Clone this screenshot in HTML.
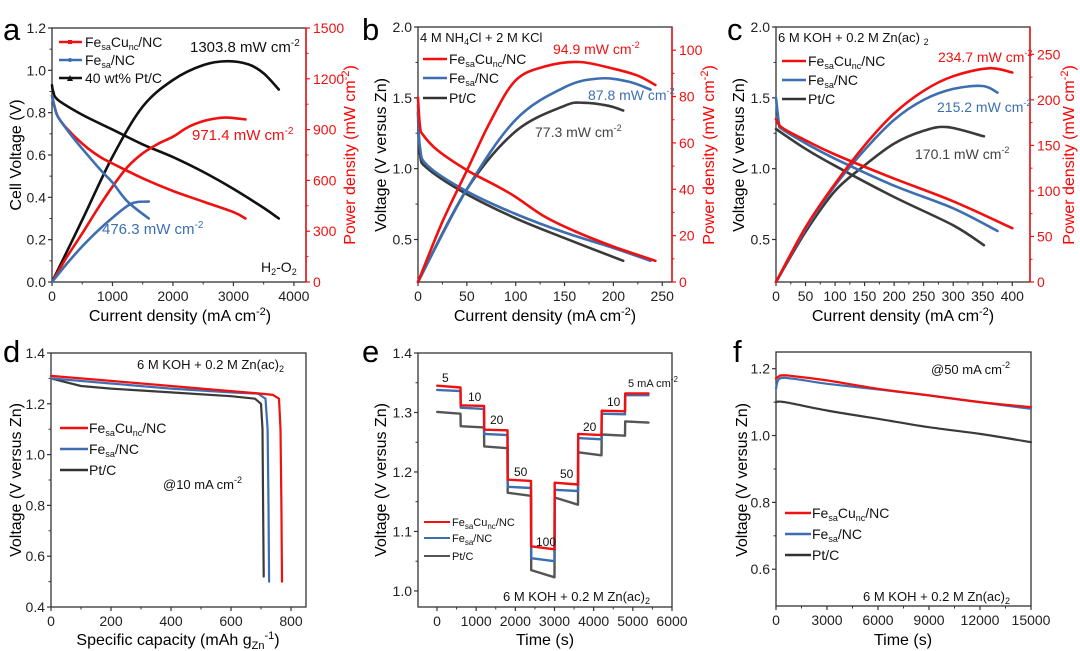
<!DOCTYPE html>
<html><head><meta charset="utf-8"><style>
html,body{margin:0;padding:0;background:#fff}
svg{display:block;font-family:"Liberation Sans",Arial,sans-serif}
</style></head><body>
<svg id="fig" width="1080" height="651" viewBox="0 0 1080 651">
<g font-size="31" fill="#000">
<text x="3" y="40">a</text>
<text x="362" y="40">b</text>
<text x="727" y="40">c</text>
<text x="3" y="362">d</text>
<text x="362" y="362">e</text>
<text x="733" y="362">f</text>
</g>
<g font-size="16" fill="#000">
<text transform="translate(21,155) rotate(-90)" text-anchor="middle">Cell Voltage (V)</text>
<text transform="translate(355,155) rotate(-90)" text-anchor="middle" fill="#f00">Power density (mW cm<tspan font-size="11" dy="-6">-2</tspan><tspan dy="6">)</tspan></text>
<text x="180" y="321" text-anchor="middle">Current density  (mA cm<tspan font-size="11" dy="-6">-2</tspan><tspan dy="6">)</tspan></text>
<text transform="translate(386,155) rotate(-90)" text-anchor="middle">Voltage (V versus Zn)</text>
<text transform="translate(714,155) rotate(-90)" text-anchor="middle" fill="#f00">Power density (mW cm<tspan font-size="11" dy="-6">-2</tspan><tspan dy="6">)</tspan></text>
<text x="545" y="321" text-anchor="middle">Current density  (mA cm<tspan font-size="11" dy="-6">-2</tspan><tspan dy="6">)</tspan></text>
<text transform="translate(744,155) rotate(-90)" text-anchor="middle">Voltage (V versus Zn)</text>
<text transform="translate(1074,155) rotate(-90)" text-anchor="middle" fill="#f00">Power density (mW cm<tspan font-size="11" dy="-6">-2</tspan><tspan dy="6">)</tspan></text>
<text x="903" y="321" text-anchor="middle">Current density  (mA cm<tspan font-size="11" dy="-6">-2</tspan><tspan dy="6">)</tspan></text>
<text transform="translate(21,480) rotate(-90)" text-anchor="middle">Voltage (V versus Zn)</text>
<text x="178" y="645" text-anchor="middle">Specific capacity  (mAh g<tspan font-size="11" dy="4">Zn</tspan><tspan font-size="11" dy="-10">-1</tspan><tspan dy="6">)</tspan></text>
<text transform="translate(386,480) rotate(-90)" text-anchor="middle">Voltage (V versus Zn)</text>
<text x="545" y="645" text-anchor="middle">Time (s)</text>
<text transform="translate(747,480) rotate(-90)" text-anchor="middle">Voltage (V versus Zn)</text>
<text x="903" y="645" text-anchor="middle">Time (s)</text>
</g>
<g id="plots"></g>
<g font-size="14" fill="#111">
<g>
<line x1="59" y1="42" x2="82" y2="42" stroke="#f01010" stroke-width="2.5"/><rect x="68" y="40" width="4" height="4" fill="#f01010"/>
<text x="85" y="47">Fe<tspan font-size="9" dy="3">sa</tspan><tspan dy="-3">Cu</tspan><tspan font-size="9" dy="3">nc</tspan><tspan dy="-3">/NC</tspan></text>
<line x1="59" y1="60" x2="82" y2="60" stroke="#3d6fb0" stroke-width="2.5"/><circle cx="70" cy="60" r="2" fill="#3d6fb0"/>
<text x="85" y="65">Fe<tspan font-size="9" dy="3">sa</tspan><tspan dy="-3">/NC</tspan></text>
<line x1="59" y1="78" x2="82" y2="78" stroke="#111" stroke-width="2.5"/><path d="M67,81 L70,75 L73,81Z" fill="#111"/>
<text x="85" y="83">40 wt% Pt/C</text>
</g>
<text x="190" y="52" font-size="15">1303.8 mW cm<tspan font-size="10" dy="-6">-2</tspan></text>
<text x="192" y="140" font-size="15" fill="#f01010">971.4 mW cm<tspan font-size="10" dy="-6">-2</tspan></text>
<text x="102" y="234" font-size="15" fill="#3d6fb0">476.3 mW cm<tspan font-size="10" dy="-6">-2</tspan></text>
<text x="261" y="272">H<tspan font-size="9" dy="3">2</tspan><tspan dy="-3">-O</tspan><tspan font-size="9" dy="3">2</tspan></text>
<text x="420" y="42" font-size="13">4 M NH<tspan font-size="9" dy="3">4</tspan><tspan dy="-3">Cl + 2 M KCl</tspan></text>
<g>
<line x1="423" y1="59" x2="447" y2="59" stroke="#f01010" stroke-width="2.5"/>
<text x="449" y="64">Fe<tspan font-size="9" dy="3">sa</tspan><tspan dy="-3">Cu</tspan><tspan font-size="9" dy="3">nc</tspan><tspan dy="-3">/NC</tspan></text>
<line x1="423" y1="78" x2="447" y2="78" stroke="#3d6fb0" stroke-width="2.5"/>
<text x="449" y="83">Fe<tspan font-size="9" dy="3">sa</tspan><tspan dy="-3">/NC</tspan></text>
<line x1="423" y1="98" x2="447" y2="98" stroke="#333" stroke-width="2.5"/>
<text x="449" y="103">Pt/C</text>
</g>
<text x="553" y="54" fill="#f01010">94.9 mW cm<tspan font-size="9" dy="-6">-2</tspan></text>
<text x="588" y="100" fill="#3d6fb0">87.8 mW cm<tspan font-size="9" dy="-6">-2</tspan></text>
<text x="535" y="137" fill="#444">77.3 mW cm<tspan font-size="9" dy="-6">-2</tspan></text>
<text x="778" y="42" font-size="13">6 M KOH + 0.2 M Zn(ac) <tspan font-size="9" dy="3">2</tspan></text>
<g>
<line x1="782" y1="61" x2="806" y2="61" stroke="#f01010" stroke-width="2.5"/>
<text x="808" y="66">Fe<tspan font-size="9" dy="3">sa</tspan><tspan dy="-3">Cu</tspan><tspan font-size="9" dy="3">nc</tspan><tspan dy="-3">/NC</tspan></text>
<line x1="782" y1="80" x2="806" y2="80" stroke="#3d6fb0" stroke-width="2.5"/>
<text x="808" y="85">Fe<tspan font-size="9" dy="3">sa</tspan><tspan dy="-3">/NC</tspan></text>
<line x1="782" y1="99" x2="806" y2="99" stroke="#333" stroke-width="2.5"/>
<text x="808" y="104">Pt/C</text>
</g>
<text x="938" y="62" fill="#f01010">234.7 mW cm<tspan font-size="9" dy="-6">-2</tspan></text>
<text x="937" y="112" fill="#3d6fb0">215.2 mW cm<tspan font-size="9" dy="-6">-2</tspan></text>
<text x="915" y="159" fill="#444">170.1 mW cm<tspan font-size="9" dy="-6">-2</tspan></text>
<text x="137" y="369" font-size="13">6 M KOH + 0.2 M Zn(ac)<tspan font-size="9" dy="3">2</tspan></text>
<g>
<line x1="60" y1="428" x2="88" y2="428" stroke="#f01010" stroke-width="2.5"/>
<text x="89" y="433">Fe<tspan font-size="9" dy="3">sa</tspan><tspan dy="-3">Cu</tspan><tspan font-size="9" dy="3">nc</tspan><tspan dy="-3">/NC</tspan></text>
<line x1="60" y1="449" x2="88" y2="449" stroke="#3d6fb0" stroke-width="2.5"/>
<text x="89" y="454">Fe<tspan font-size="9" dy="3">sa</tspan><tspan dy="-3">/NC</tspan></text>
<line x1="60" y1="470" x2="88" y2="470" stroke="#333" stroke-width="2.5"/>
<text x="89" y="475">Pt/C</text>
</g>
<text x="163" y="489" font-size="13">@10 mA cm<tspan font-size="9" dy="-6">-2</tspan></text>
<g font-size="11">
<line x1="424" y1="522" x2="450" y2="522" stroke="#f01010" stroke-width="2"/>
<text x="452" y="526">Fe<tspan font-size="8" dy="3">sa</tspan><tspan dy="-3">Cu</tspan><tspan font-size="8" dy="3">nc</tspan><tspan dy="-3">/NC</tspan></text>
<line x1="424" y1="538" x2="450" y2="538" stroke="#3d6fb0" stroke-width="2"/>
<text x="452" y="542">Fe<tspan font-size="8" dy="3">sa</tspan><tspan dy="-3">/NC</tspan></text>
<line x1="424" y1="556" x2="450" y2="556" stroke="#555" stroke-width="2"/>
<text x="452" y="560">Pt/C</text>
</g>
<g font-size="12">
<text x="442" y="382">5</text><text x="468" y="401">10</text><text x="490" y="424">20</text>
<text x="514" y="476">50</text><text x="536" y="546">100</text><text x="560" y="478">50</text>
<text x="583" y="431">20</text><text x="607" y="406">10</text>
<text x="628" y="387" font-size="11">5 mA cm<tspan font-size="8" dy="-5">-2</tspan></text>
</g>
<text x="503" y="601" font-size="13">6 M KOH + 0.2 M Zn(ac)<tspan font-size="9" dy="3">2</tspan></text>
<text x="931" y="374" font-size="13">@50 mA cm<tspan font-size="9" dy="-6">-2</tspan></text>
<g>
<line x1="785" y1="513" x2="811" y2="513" stroke="#f01010" stroke-width="2.5"/>
<text x="812" y="518">Fe<tspan font-size="9" dy="3">sa</tspan><tspan dy="-3">Cu</tspan><tspan font-size="9" dy="3">nc</tspan><tspan dy="-3">/NC</tspan></text>
<line x1="785" y1="534" x2="811" y2="534" stroke="#3d6fb0" stroke-width="2.5"/>
<text x="812" y="539">Fe<tspan font-size="9" dy="3">sa</tspan><tspan dy="-3">/NC</tspan></text>
<line x1="785" y1="555" x2="811" y2="555" stroke="#333" stroke-width="2.5"/>
<text x="812" y="560">Pt/C</text>
</g>
<text x="863" y="601" font-size="13">6 M KOH + 0.2 M Zn(ac)<tspan font-size="9" dy="3">2</tspan></text>
</g>
</svg>
<script>
// ---- panel a data ----
const aRedVx=[0,50,100,200,400,600,800,1000,1500,2000,2500,3000,3200];
const aRedV=[0.88,0.82,0.78,0.74,0.68,0.63,0.59,0.56,0.49,0.43,0.38,0.33,0.30];
const aRedPx=[0,250,500,750,1000,1250,1500,1750,2000,2250,2500,2750,2900,3200];
const aRedP=[0,150,287,430,563,680,760,815,858,915,950,968,971,960];
const aBluVx=[0,50,100,300,500,800,1000,1250,1600];
const aBluV=[0.88,0.82,0.78,0.70,0.63,0.53,0.47,0.38,0.30];
const aBluPx=[0,250,500,750,1000,1250,1400,1600];
const aBluP=[0,110,210,300,380,450,472,475];
const aBlkVx=[0,20,100,500,1000,1500,2000,2500,3000,3500,3750];
const aBlkV=[0.93,0.90,0.86,0.79,0.72,0.65,0.59,0.52,0.44,0.35,0.30];
const aBlkPx=[0,500,1000,1500,2000,2500,2900,3250,3500,3750];
const aBlkP=[0,366,740,1036,1193,1281,1304,1285,1232,1137];
// ---- panel b data ----
const bRedVx=[0,2,5,20,50,80,100,130,160,200,243];
const bRedV=[1.5,1.3,1.24,1.13,0.99,0.88,0.80,0.66,0.56,0.45,0.35];
const bRedPx=[0,25,50,75,100,130,165,200,225,243];
const bRedP=[0,26,48,70,87,93,94.9,92,89,85];
const bBluVx=[0,2,10,50,100,150,200,238];
const bBluV=[1.45,1.15,1.02,0.84,0.68,0.55,0.44,0.35];
const bBluPx=[0,50,100,150,185,215,238];
const bBluP=[0,40,70,84,87.8,86.5,83];
const bBlkVx=[0,2,10,50,100,150,210];
const bBlkV=[1.4,1.1,1.0,0.82,0.65,0.51,0.35];
const bBlkPx=[0,50,100,150,170,195,210];
const bBlkP=[0,40,65,76,77.3,76,74];
// ---- panel c data ----
const cRedVx=[0,10,50,100,200,300,400];
const cRedV=[1.35,1.29,1.2,1.1,0.93,0.77,0.58];
const cRedPx=[0,50,100,150,200,250,300,360,400];
const cRedP=[0,60,108,150,185,210,226,234.7,230];
const cBluVx=[0,5,10,50,100,200,300,375];
const cBluV=[1.5,1.32,1.28,1.18,1.07,0.88,0.72,0.56];
const cBluPx=[0,50,100,150,200,250,300,350,375];
const cBluP=[0,58,106,145,178,200,212,215.2,208];
const cBlkVx=[0,50,100,200,300,352];
const cBlkV=[1.28,1.14,1.02,0.80,0.60,0.46];
const cBlkPx=[0,50,100,150,200,250,290,352];
const cBlkP=[0,55,100,128,152,166,170.1,160];
// ---- panel d data ----
const dRedX=[0,200,400,600,700,740,760,765,768,770];
const dRedV=[1.31,1.29,1.27,1.25,1.24,1.235,1.22,1.1,0.8,0.5];
const dBluX=[0,200,400,600,690,715,722,725,727];
const dBluV=[1.30,1.28,1.26,1.245,1.24,1.22,1.1,0.8,0.5];
const dBlkX=[0,100,200,400,600,680,700,705,707,709];
const dBlkV=[1.30,1.27,1.26,1.245,1.23,1.22,1.20,1.1,0.8,0.52];
// ---- panel e data ----
const eSteps=[0,600,1200,1800,2400,3000,3600,4200,4800,5400];
const eRedStart=[1.345,1.312,1.271,1.187,1.075,1.182,1.264,1.303,1.332];
const eRedEnd=[1.342,1.311,1.270,1.185,1.070,1.179,1.262,1.302,1.332];
const eBluStart=[1.338,1.308,1.264,1.175,1.055,1.170,1.257,1.298,1.329];
const eBluEnd=[1.336,1.306,1.262,1.173,1.050,1.168,1.255,1.297,1.329];
const eBlkStart=[1.301,1.277,1.243,1.165,1.035,1.157,1.233,1.263,1.285];
const eBlkEnd=[1.298,1.275,1.240,1.160,1.023,1.145,1.228,1.261,1.283];
// ---- panel f data ----
const fRedX=[0,300,1000,3000,6000,9000,12000,15000];
const fRedV=[1.17,1.18,1.178,1.165,1.14,1.12,1.10,1.085];
const fBluX=[0,200,1000,3000,6000,9000,12000,15000];
const fBluV=[1.14,1.17,1.17,1.155,1.138,1.12,1.10,1.08];
const fBlkX=[0,500,3000,6000,9000,12000,15000];
const fBlkV=[1.10,1.10,1.075,1.05,1.025,1.005,0.98];
// ---- tick labels ----
const aXT=[0,1000,2000,3000,4000], aYT=[0,0.2,0.4,0.6,0.8,1.0,1.2], aY2T=[0,300,600,900,1200,1500];
const bXT=[0,50,100,150,200,250], bYT=[0.5,1.0,1.5,2.0], bY2T=[0,20,40,60,80,100];
const cXT=[0,50,100,150,200,250,300,350,400], cYT=[0.5,1.0,1.5,2.0], cY2T=[0,50,100,150,200,250];
const dXT=[0,200,400,600,800], dYT=[0.4,0.6,0.8,1.0,1.2,1.4];
const eXT=[0,1000,2000,3000,4000,5000,6000], eYT=[1.0,1.1,1.2,1.3,1.4];
const fXT=[0,3000,6000,9000,12000,15000], fYT=[0.6,0.8,1.0,1.2];

const NS='http://www.w3.org/2000/svg';
const root=document.getElementById('plots');
const RED='#f01010',BLU='#3d6fb0',BLK='#111',GRY='#3a3a3a';
function lin(d0,d1,r0,r1){return v=>r0+(v-d0)/(d1-d0)*(r1-r0);}
function mk(tag,attrs,parent){const e=document.createElementNS(NS,tag);for(const k in attrs)e.setAttribute(k,attrs[k]);(parent||root).appendChild(e);return e;}
function fmt(v,dec){return dec?v.toFixed(dec):String(v);}

function panel(id,box,xd,yd,xt,yt,xdec,ydec,y2d,y2t){
  const sx=lin(xd[0],xd[1],box.x0,box.x1), sy=lin(yd[0],yd[1],box.y1,box.y0);
  const g=mk('g',{});
  
  
  const frame=mk('rect',{x:box.x0,y:box.y0,width:box.x1-box.x0,height:box.y1-box.y0,fill:'none',stroke:'#333','stroke-width':1.3},g);
  
  
  xt.forEach((v,i)=>{
    const x=sx(v);
    const t=mk('line',{x1:x,y1:box.y1,x2:x,y2:box.y1+4,stroke:'#333','stroke-width':1.2},g);
    
    
    const l=mk('text',{x:x,y:box.y1+19,'text-anchor':'middle','font-size':14,fill:'#222'},g);
    l.textContent=fmt(v,xdec);
    
    
    if(i<xt.length-1){const mx=sx((v+xt[i+1])/2);
      const m=mk('line',{x1:mx,y1:box.y1,x2:mx,y2:box.y1+2.5,stroke:'#333','stroke-width':1},g);
      
      }
  });
  yt.forEach((v,i)=>{
    const y=sy(v);
    const t=mk('line',{x1:box.x0-4,y1:y,x2:box.x0,y2:y,stroke:'#333','stroke-width':1.2},g);
    
    
    const l=mk('text',{x:box.x0-6,y:y+5,'text-anchor':'end','font-size':14,fill:'#222'},g);
    l.textContent=fmt(v,ydec);
    
    
    if(i<yt.length-1){const my=sy((v+yt[i+1])/2);
      const m=mk('line',{x1:box.x0-2.5,y1:my,x2:box.x0,y2:my,stroke:'#333','stroke-width':1},g);
      
      }
  });
  let sy2=null;
  if(y2d){
    sy2=lin(y2d[0],y2d[1],box.y1,box.y0);
    const ax=mk('line',{x1:box.x1,y1:box.y0,x2:box.x1,y2:box.y1,stroke:RED,'stroke-width':1.5},g);
    
    
    y2t.forEach((v,i)=>{
      const y=sy2(v);
      const t=mk('line',{x1:box.x1,y1:y,x2:box.x1+4,y2:y,stroke:RED,'stroke-width':1.2},g);
      
      
      const l=mk('text',{x:box.x1+7,y:y+5,'font-size':14,fill:RED},g);
      l.textContent=String(v);
      
      
      if(i<y2t.length-1){const my=sy2((v+y2t[i+1])/2);
        const m=mk('line',{x1:box.x1,y1:my,x2:box.x1+2.5,y2:my,stroke:RED,'stroke-width':1},g);
        
        }
    });
  }
  return {sx,sy,sy2,g};
}
function curve(p,xs,ys,scaleY,color,w,name,smooth){
  const pts=xs.map((x,i)=>[p.sx(x),scaleY(ys[i])]);
  let d='M'+pts[0][0].toFixed(1)+','+pts[0][1].toFixed(1);
  for(let i=1;i<pts.length;i++){
    if(smooth){
      const p0=pts[Math.max(i-2,0)],p1=pts[i-1],p2=pts[i],p3=pts[Math.min(i+1,pts.length-1)];
      const c1=[p1[0]+(p2[0]-p0[0])/6,p1[1]+(p2[1]-p0[1])/6];
      const c2=[p2[0]-(p3[0]-p1[0])/6,p2[1]-(p3[1]-p1[1])/6];
      d+=' C'+c1.map(v=>v.toFixed(1)).join(',')+' '+c2.map(v=>v.toFixed(1)).join(',')+' '+p2[0].toFixed(1)+','+p2[1].toFixed(1);
    } else d+=' L'+pts[i][0].toFixed(1)+','+pts[i][1].toFixed(1);
  }
  const e=mk('path',{d:d,fill:'none',stroke:color,'stroke-width':w,'stroke-linejoin':'round','stroke-linecap':'round'},p.g);
  
  
}

const pa=panel('a',{x0:52,x1:306,y0:28,y1:282},[0,4200],[0,1.2],aXT,aYT,0,1,[0,1500],aY2T);
curve(pa,aBlkVx,aBlkV,pa.sy,BLK,2.6,'a-ptc-voltage',true);
curve(pa,aBlkPx,aBlkP,pa.sy2,BLK,2.6,'a-ptc-power',true);
curve(pa,aRedVx,aRedV,pa.sy,RED,2.6,'a-fesacu-voltage',true);
curve(pa,aRedPx,aRedP,pa.sy2,RED,2.6,'a-fesacu-power',true);
curve(pa,aBluVx,aBluV,pa.sy,BLU,2.6,'a-fesa-voltage',true);
curve(pa,aBluPx,aBluP,pa.sy2,BLU,2.6,'a-fesa-power',true);
const pb=panel('b',{x0:418,x1:672,y0:27,y1:282},[0,260],[0.2,2.0],bXT,bYT,0,1,[0,110],bY2T);
curve(pb,bBlkVx,bBlkV,pb.sy,GRY,2.6,'b-ptc-voltage',true);
curve(pb,bBlkPx,bBlkP,pb.sy2,GRY,2.6,'b-ptc-power',true);
curve(pb,bBluVx,bBluV,pb.sy,BLU,2.6,'b-fesa-voltage',true);
curve(pb,bBluPx,bBluP,pb.sy2,BLU,2.6,'b-fesa-power',true);
curve(pb,bRedVx,bRedV,pb.sy,RED,2.6,'b-fesacu-voltage',true);
curve(pb,bRedPx,bRedP,pb.sy2,RED,2.6,'b-fesacu-power',true);
const pc=panel('c',{x0:776,x1:1030,y0:27,y1:282},[0,430],[0.2,2.0],cXT,cYT,0,1,[0,280],cY2T);
curve(pc,cBlkVx,cBlkV,pc.sy,GRY,2.6,'c-ptc-voltage',true);
curve(pc,cBlkPx,cBlkP,pc.sy2,GRY,2.6,'c-ptc-power',true);
curve(pc,cBluVx,cBluV,pc.sy,BLU,2.6,'c-fesa-voltage',true);
curve(pc,cBluPx,cBluP,pc.sy2,BLU,2.6,'c-fesa-power',true);
curve(pc,cRedVx,cRedV,pc.sy,RED,2.6,'c-fesacu-voltage',true);
curve(pc,cRedPx,cRedP,pc.sy2,RED,2.6,'c-fesacu-power',true);
const pd=panel('d',{x0:51,x1:306,y0:353,y1:607},[0,850],[0.4,1.4],dXT,dYT,0,1);
curve(pd,dBlkX,dBlkV,pd.sy,GRY,2.2,'d-ptc-discharge');
curve(pd,dBluX,dBluV,pd.sy,BLU,2.2,'d-fesa-discharge');
curve(pd,dRedX,dRedV,pd.sy,RED,2.2,'d-fesacu-discharge');
const pe=panel('e',{x0:418,x1:672,y0:353,y1:607},[-485,6000],[0.973,1.4],eXT,eYT,0,1);
function stepCurve(starts,ends){const xs=[],ys=[];
  for(let i=0;i<starts.length;i++){xs.push(eSteps[i]+5,eSteps[i+1]);ys.push(starts[i],ends[i]);}
  return [xs,ys];}
[[eBlkStart,eBlkEnd,'#555','e-ptc-steps'],[eBluStart,eBluEnd,BLU,'e-fesa-steps'],[eRedStart,eRedEnd,RED,'e-fesacu-steps']].forEach(s=>{
  const r=stepCurve(s[0],s[1]);curve(pe,r[0],r[1],pe.sy,s[2],2.4,s[3]);});
const pf=panel('f',{x0:776,x1:1031,y0:352,y1:606},[0,15000],[0.49,1.25],fXT,fYT,0,1);
curve(pf,fBlkX,fBlkV,pf.sy,GRY,2.2,'f-ptc-stability',true);
curve(pf,fBluX,fBluV,pf.sy,BLU,2.2,'f-fesa-stability',true);
curve(pf,fRedX,fRedV,pf.sy,RED,2.2,'f-fesacu-stability',true);
</script>
</body></html>
